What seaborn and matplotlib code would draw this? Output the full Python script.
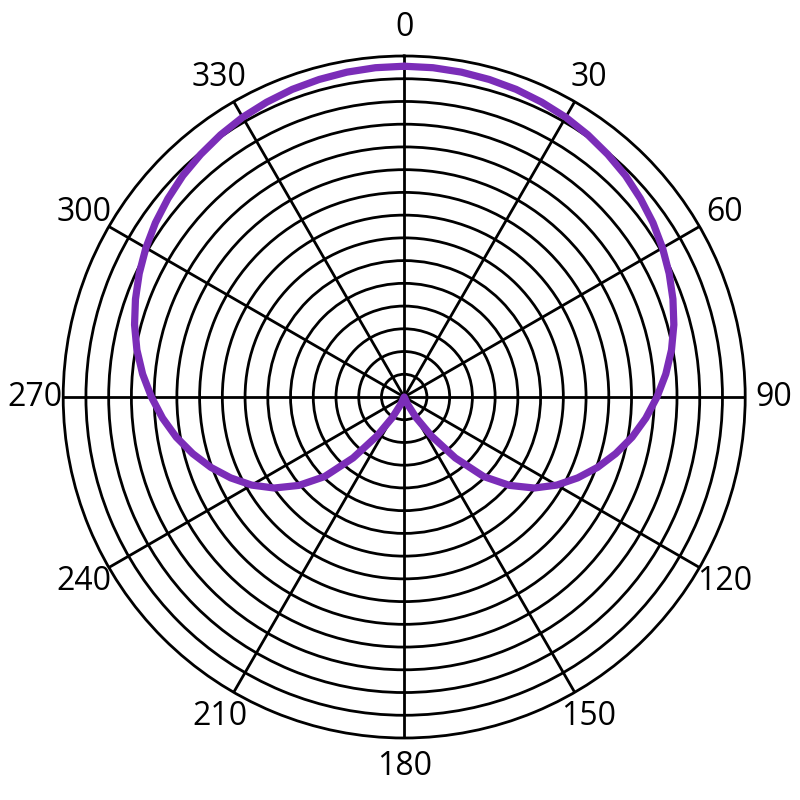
import numpy as np
import pandas as pd
import matplotlib
matplotlib.use("Agg")
import matplotlib.pyplot as plt
import seaborn as sns

# Angles (degrees, clockwise from top) and radius (ring units, 15 rings)
angles_deg = [0, 5, 10, 15, 20, 25, 30, 35, 40, 45, 50, 55, 60, 65, 70, 75, 80, 85,
              90, 95, 100, 105, 110, 115, 120, 125, 130, 135, 140, 145, 150, 155, 160, 165,
              170, 175, 180, 185, 190, 195, 200, 205, 210, 215, 220, 225, 230, 235, 240, 245,
              250, 255, 260, 265, 270, 275, 280, 285, 290, 295, 300, 305, 310, 315, 320, 325,
              330, 335, 340, 345, 350, 355, 360]
radius = [14.55, 14.54, 14.51, 14.46, 14.40, 14.31, 14.21, 14.08, 13.93, 13.77, 13.57, 13.36,
          13.12, 12.86, 12.58, 12.28, 11.94, 11.55, 11.12, 10.67, 10.18, 9.63, 9.05, 8.42,
          7.75, 6.98, 6.05, 4.95, 3.50, 2.10, 1.05, 0.35, 0.0, 0.0,
          0.0, 0.0, 0.0, 0.0, 0.0, 0.0, 0.0, 0.35, 1.05, 2.10, 3.50, 4.95, 6.05, 6.98, 7.75,
          8.42, 9.05, 9.63, 10.18, 10.67, 11.12, 11.55, 11.94, 12.28, 12.58, 12.86, 13.12,
          13.36, 13.57, 13.77, 13.93, 14.08, 14.21, 14.31, 14.40, 14.46, 14.51, 14.54, 14.55]

tick_angles = [0, 30, 60, 90, 120, 150, 180, 210, 240, 270, 300, 330]
tick_labels = ["0", "30", "60", "90", "120", "150", "180", "210", "240", "270", "300", "330"]
ring_values = list(range(1, 15))
r_max = 15

sns.set_theme(style="white")
plt.rcParams['font.family'] = ['Open Sans', 'DejaVu Sans']

df = pd.DataFrame({"theta": np.deg2rad(angles_deg), "r": radius})

fig = plt.figure(figsize=(8, 8), dpi=100)
ax = fig.add_axes([0.079, 0.0775, 0.8525, 0.8525], projection='polar')
ax.set_theta_zero_location('N')
ax.set_theta_direction(-1)

sns.lineplot(data=df, x="theta", y="r", sort=False, ax=ax, color='#7B2DB8',
             linewidth=5.2, estimator=None, zorder=5)
for ln in ax.lines:
    ln.set_solid_capstyle('round')
    ln.set_solid_joinstyle('round')

ax.set_ylim(0, r_max)
ax.set_yticks(ring_values)
ax.set_yticklabels([])
ax.set_xticks(np.deg2rad(tick_angles))
ax.set_xticklabels(tick_labels)
ax.set_xlabel("")
ax.set_ylabel("")
ax.grid(True, color='black', linewidth=2.0, linestyle='-')
ax.tick_params(axis='x', pad=13.5, labelsize=23, colors='black', length=0)
ax.tick_params(axis='y', length=0)
ax.spines['polar'].set_color('black')
ax.spines['polar'].set_linewidth(2.0)
ax.set_facecolor('white')

fig.savefig("out.png", dpi=100, facecolor='white')
